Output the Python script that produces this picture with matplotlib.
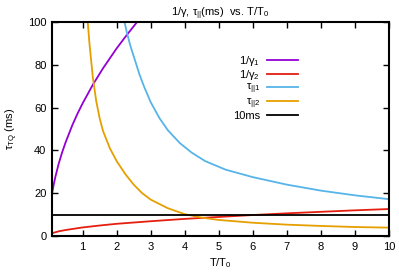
import numpy as np
import matplotlib
matplotlib.use("Agg")
import matplotlib.pyplot as plt

plt.rcParams['font.family'] = ['Liberation Sans', 'DejaVu Sans']
plt.rcParams['mathtext.fontset'] = 'custom'
plt.rcParams['mathtext.rm'] = 'Liberation Sans'
plt.rcParams['mathtext.it'] = 'Liberation Sans'
plt.rcParams['mathtext.bf'] = 'Liberation Sans'

# values (T/T0 vs ms)
x_g1 = [0.1, 0.15, 0.2, 0.3, 0.4, 0.5, 0.7, 0.85, 1.0, 1.3, 1.6, 2.0, 2.3, 2.6]
y_g1 = [19.6, 24.0, 27.7, 34.0, 39.2, 43.8, 51.9, 57.2, 62.0, 70.7, 78.4, 87.7, 94.0, 100.0]

x_g2 = [0.1, 0.3, 0.5, 1, 1.5, 2, 3, 4, 5, 6, 7, 8, 9, 10]
y_g2 = [1.3, 2.2, 2.8, 4.0, 4.9, 5.7, 6.9, 8.0, 8.9, 9.8, 10.6, 11.3, 12.0, 12.6]

x_t1 = [2.23, 2.3, 2.4, 2.5, 2.67, 2.8, 3.0, 3.26, 3.5, 3.85, 4.2, 4.6, 5.2, 6, 7, 8, 9, 10]
y_t1 = [100, 95, 89, 84, 75.5, 70, 62.5, 55, 49.5, 43.5, 39, 35, 31, 27.5, 24, 21.2, 19, 17.2]

x_t2 = [1.15, 1.2, 1.3, 1.4, 1.5, 1.6, 1.8, 2.0, 2.25, 2.5, 2.75, 3.0, 3.5, 4, 4.5, 5, 6, 7, 8, 9, 10]
y_t2 = [100, 90, 74, 63, 55, 49, 41, 35, 29, 24, 20, 17, 13, 10.2, 8.6, 7.5, 6.2, 5.3, 4.7, 4.2, 3.9]

x_ref = [0.1, 10]
y_ref = [10, 10]

fig = plt.figure(figsize=(3.99, 2.72), dpi=100)
ax = fig.add_axes([52/399, 1-236/272, (389-52)/399, (236-22)/272])

lw = 1.3
ax.plot(x_g1, y_g1, color='#9400d3', lw=lw, label=r'1/$\gamma_1$')
ax.plot(x_g2, y_g2, color='#e51e10', lw=lw, label=r'1/$\gamma_2$')
ax.plot(x_t1, y_t1, color='#56b4e9', lw=lw, label=r'$\tau_{||1}$')
ax.plot(x_t2, y_t2, color='#e69f00', lw=lw, label=r'$\tau_{||2}$')
ax.plot(x_ref, y_ref, color='black', lw=lw, label='10ms')

ax.set_xlim(0.1, 10)
ax.set_ylim(0, 100)
ax.set_xticks(range(1, 11))
ax.set_yticks(range(0, 101, 20))
ax.tick_params(direction='in', top=True, right=True, length=4, width=1,
               labelsize=8, pad=4)
for s in ax.spines.values():
    s.set_linewidth(1.5)

ax.set_title(r'1/$\gamma$, $\tau_{||}$(ms)  vs. T/T$_0$', fontsize=8, pad=4)
ax.set_xlabel(r'T/T$_0$', fontsize=8, labelpad=3)
ax.set_ylabel(r'$\tau_{\mathrm{TQ}}$ (ms)', fontsize=8, labelpad=6)

ax.legend(loc='upper right', bbox_to_anchor=(0.73, 0.85), frameon=False,
          markerfirst=False, fontsize=8, handlelength=2.8, handletextpad=0.6,
          labelspacing=0.0, borderaxespad=0, borderpad=0)

fig.savefig('out.png', dpi=100)
